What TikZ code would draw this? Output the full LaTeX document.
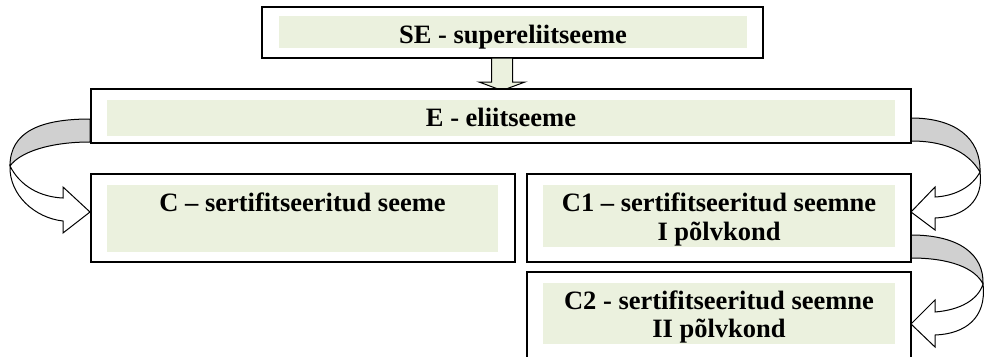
\documentclass[tikz,border=0pt]{standalone}
\usepackage{fontspec}
\setmainfont{Liberation Serif}
\definecolor{fillgreen}{RGB}{235,241,222}
\definecolor{backgrey}{RGB}{208,208,208}
\begin{document}
\begin{tikzpicture}[x=1pt,y=-1pt,
  box/.style={draw=black, line width=1.6pt, fill=white, inner sep=0pt, outer sep=0pt},
  greenfill/.style={fill=fillgreen, draw=none, inner sep=0pt, outer sep=0pt},
  txt/.style={inner sep=0pt, outer sep=0pt, anchor=base, font=\bfseries\fontsize{26.5}{28.5}\selectfont},
  arrowback/.style={fill=backgrey, draw=black, line width=1pt, line join=round},
  arrowfront/.style={fill=white, draw=black, line width=1pt, line join=miter},
  downarrow/.style={fill=fillgreen, draw=black, line width=1pt, line join=miter}]
\useasboundingbox (0,0) rectangle (985,356);
\clip (0,0) rectangle (985,356);

% curved block arrows (drawn first, boxes cover their ends)
% left: E -> C
\draw[arrowback] (90,119) .. controls (40,119) and (10,132) .. (10,166)
   .. controls (20,152) and (50,142) .. (90,142) -- cycle;
\draw[arrowfront] (10,166) .. controls (9,195) and (35,218) .. (63,221)
   -- (63,233) -- (90,212) -- (63,187) -- (63,198)
   .. controls (40,197) and (20,186) .. (10,166) -- cycle;
% right: E -> C1
\draw[arrowback] (911,118) .. controls (955,118) and (981,138) .. (980,172)
   .. controls (970,155) and (950,141) .. (911,141) -- cycle;
\draw[arrowfront] (980,172) .. controls (984,200) and (965,217) .. (935,218)
   -- (935,230) -- (911,212) -- (935,187) -- (935,197)
   .. controls (955,196) and (972,187) .. (980,172) -- cycle;
% right: C1 -> C2
\draw[arrowback] (911,235) .. controls (960,235) and (984,255) .. (983,284)
   .. controls (975,268) and (950,258) .. (911,258) -- cycle;
\draw[arrowfront] (983,284) .. controls (987,318) and (965,334) .. (935,335)
   -- (935,347) -- (911,324) -- (935,300) -- (935,312)
   .. controls (960,310) and (978,300) .. (983,284) -- cycle;

% SE
\node[box, minimum width=501pt, minimum height=51pt] (se) at (512.5,32.5) {};
\node[greenfill, minimum width=468pt, minimum height=32pt] (sef) at (513,32) {};
\node[txt] (set) at (513,43.3) {SE - supereliitseeme};

% down arrow SE -> E
\draw[downarrow] (491.5,58) -- (512.5,58) -- (512.5,82) -- (525,82) -- (502,90.5)
   -- (479,82) -- (491.5,82) -- cycle;

% E
\node[box, minimum width=820pt, minimum height=54pt] (e) at (501,116) {};
\node[greenfill, minimum width=788pt, minimum height=36pt] (ef) at (501,118) {};
\node[txt] (et) at (501,126) {E - eliitseeme};

% C
\node[box, minimum width=424pt, minimum height=88pt] (c) at (303,218) {};
\node[greenfill, minimum width=391pt, minimum height=67pt] (cf) at (302.5,218.5) {};
\node[txt] (ct) at (302.5,211.5) {C – sertifitseeritud seeme};

% C1
\node[box, minimum width=384pt, minimum height=88pt] (c1) at (719,218) {};
\node[greenfill, minimum width=352pt, minimum height=62pt] (c1f) at (719,216) {};
\node[txt] (c1t) at (719,211.5) {\begin{tabular}[t]{@{}c@{}}C1 – sertifitseeritud seemne\\I põlvkond\end{tabular}};

% C2 (bottom edge outside the picture)
\node[box, minimum width=384pt, minimum height=118pt] (c2) at (719,331) {};
\node[greenfill, minimum width=352pt, minimum height=61pt] (c2f) at (719,313.5) {};
\node[txt] (c2t) at (719,309) {\begin{tabular}[t]{@{}c@{}}C2 - sertifitseeritud seemne\\II põlvkond\end{tabular}};
\end{tikzpicture}
\end{document}
